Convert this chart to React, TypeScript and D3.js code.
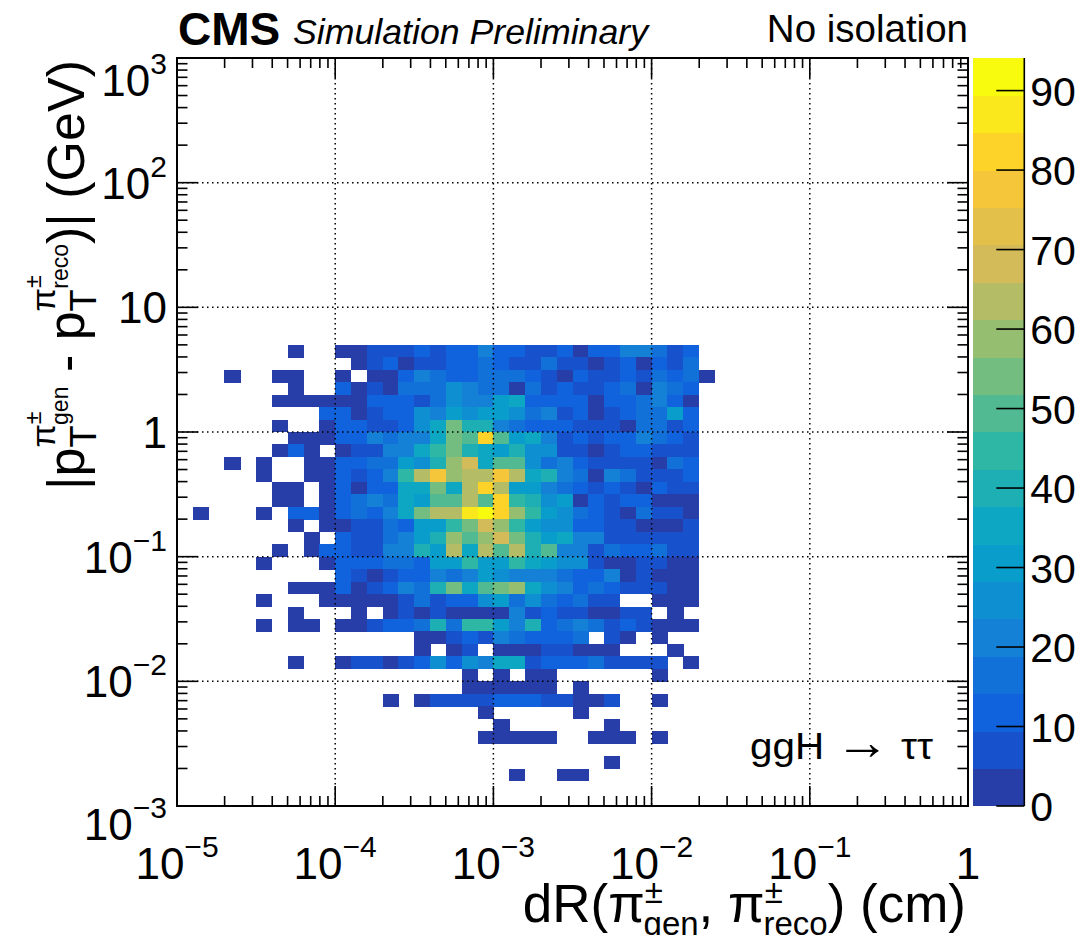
import React from "react";
import * as d3 from "d3";

// ---------- data ----------
// Histogram binning: 0.1 decade bins in log10 on both axes
const X_LOG_MIN = -5;
const X_LOG_MAX = 0;
const Y_LOG_MIN = -3;
const Y_LOG_MAX = 3;
const BIN_DECADES = 0.1;
const Z_MAX = 94.1;
const N_CONTOURS = 20;

// y-bin index (from 1e-3, 0.1 decade each) of every row below, top to bottom
const rowIndices = [36, 35, 34, 33, 32, 31, 30, 29, 28, 27, 26, 25, 24, 23, 22, 21, 20, 19, 18, 17, 16, 15, 14, 13, 12, 11, 10, 9, 8, 7, 6, 5, 4, 3, 2];

// counts per x-bin (x-bin c spans 10^(-5+0.1c) .. 10^(-5+0.1(c+1))), c = 0..33
const counts = [
  [0,0,0,0,0,0,0,2,0,0, 2,2,7,7,7,14,7,12,12,21, 12,12,7,7,12,2,12,12,21,21, 17,7,12,0],
  [0,0,0,0,0,0,0,0,0,0, 0,2,7,12,2,7,7,12,12,17, 12,7,7,17,7,7,2,7,12,2, 12,7,17,0],
  [0,0,0,2,0,0,2,2,0,0, 2,0,2,2,12,21,17,12,12,17, 17,17,12,7,2,12,7,7,12,7, 17,12,17,2],
  [0,0,0,0,0,0,0,2,0,0, 12,2,7,2,17,17,17,26,21,17, 17,2,17,7,12,7,7,12,17,2, 21,17,12,0],
  [0,0,0,0,0,0,2,2,2,2, 2,2,12,12,12,7,17,26,21,21, 31,35,12,12,12,12,2,12,12,17, 21,12,2,0],
  [0,0,0,0,0,0,0,0,0,12, 12,2,7,12,12,26,21,31,26,31, 31,26,17,21,7,12,2,7,12,17, 17,31,12,0],
  [0,0,0,0,0,0,2,0,0,2, 12,12,7,7,12,26,35,54,40,40, 21,17,14,12,12,7,7,7,2,17, 17,7,12,0],
  [0,0,0,0,0,0,0,2,2,2, 12,12,21,17,21,21,35,54,50,83, 50,31,35,21,7,12,7,12,12,21, 17,12,7,0],
  [0,0,0,0,0,0,2,12,2,0, 2,7,7,21,21,35,45,54,40,35, 31,40,24,26,7,7,2,7,12,12, 7,7,7,0],
  [0,0,0,2,0,2,0,0,2,2, 12,14,17,17,31,26,40,59,69,35, 50,50,28,17,21,12,7,7,7,7, 2,17,12,0],
  [0,0,0,0,0,2,0,0,2,2, 12,7,12,21,45,64,78,59,64,64, 78,64,35,40,21,17,2,21,17,7, 7,7,12,0],
  [0,0,0,0,0,0,2,2,0,2, 12,2,12,12,35,35,54,35,64,83, 64,31,31,21,17,12,7,12,7,2, 12,7,7,0],
  [0,0,0,0,0,0,2,2,0,2, 12,17,21,17,35,31,50,50,64,50, 83,45,40,26,31,2,12,7,12,12, 2,2,2,0],
  [0,2,0,0,0,2,0,12,12,2, 12,17,12,21,35,54,64,64,88,93, 83,59,45,31,26,17,12,7,2,17, 7,7,2,0],
  [0,0,0,0,0,0,0,2,0,2, 2,7,7,17,12,31,31,45,54,69, 59,45,31,26,26,12,12,7,7,2, 2,2,7,0],
  [0,0,0,0,0,0,0,0,2,0, 12,7,7,17,21,31,40,59,50,59, 69,54,40,31,35,21,21,7,7,7, 7,7,7,0],
  [0,0,0,0,0,0,2,0,2,12, 14,7,7,21,21,40,31,64,35,64, 50,64,40,50,21,21,7,17,12,12, 17,7,7,0],
  [0,0,0,0,0,2,0,0,0,2, 12,12,12,17,17,12,31,31,45,31, 31,45,33,31,26,26,7,2,2,7, 7,2,2,0],
  [0,0,0,0,0,0,0,0,0,0, 12,9,2,7,12,12,21,17,21,31, 26,21,21,21,17,12,12,21,2,7, 2,2,2,0],
  [0,0,0,0,0,0,0,2,2,2, 12,2,7,12,21,17,40,54,35,50, 54,59,33,26,21,12,17,12,7,7, 7,2,2,0],
  [0,0,0,0,0,2,0,0,0,2, 2,2,2,2,7,17,7,12,12,26, 31,17,28,17,12,17,7,7,0,0, 2,2,2,0],
  [0,0,0,0,0,0,0,2,0,0, 0,2,0,2,7,2,7,2,2,2, 2,21,7,12,7,7,2,2,7,7, 0,2,0,0],
  [0,0,0,0,0,2,0,2,2,0, 2,2,7,12,12,17,40,17,45,45, 31,21,40,12,17,21,17,7,12,7, 2,2,2,0],
  [0,0,0,0,0,0,0,0,0,0, 0,0,0,0,0,2,2,7,12,7, 21,17,12,12,12,17,0,7,2,0, 2,0,0,0],
  [0,0,0,0,0,0,0,0,0,0, 0,0,0,0,0,2,0,2,7,0, 2,2,2,7,7,2,2,2,0,0, 0,2,0,0],
  [0,0,0,0,0,0,0,2,0,0, 2,9,7,2,7,12,26,12,26,21, 35,35,7,12,12,12,17,7,7,7, 7,0,2,0],
  [0,0,0,0,0,0,0,0,0,0, 0,0,0,0,0,0,0,0,2,0, 2,0,2,2,0,0,0,0,0,0, 2,0,0,0],
  [0,0,0,0,0,0,0,0,0,0, 0,0,0,0,0,0,0,0,2,2, 2,2,2,2,0,2,0,0,0,0, 0,0,0,0],
  [0,0,0,0,0,0,0,0,0,0, 0,0,0,2,0,2,7,7,7,7, 12,12,12,7,7,2,2,7,0,0, 2,0,0,0],
  [0,0,0,0,0,0,0,0,0,0, 0,0,0,0,0,0,0,0,0,2, 0,0,0,0,0,2,0,0,0,0, 0,0,0,0],
  [0,0,0,0,0,0,0,0,0,0, 0,0,0,0,0,0,0,0,0,0, 2,0,0,0,0,0,0,2,0,0, 0,0,0,0],
  [0,0,0,0,0,0,0,0,0,0, 0,0,0,0,0,0,0,0,0,2, 2,2,2,2,0,0,2,2,2,0, 2,0,0,0],
  [0,0,0,0,0,0,0,0,0,0, 0,0,0,0,0,0,0,0,0,0, 0,0,0,0,0,0,0,0,0,0, 0,0,0,0],
  [0,0,0,0,0,0,0,0,0,0, 0,0,0,0,0,0,0,0,0,0, 0,0,0,0,0,0,0,2,0,0, 0,0,0,0],
  [0,0,0,0,0,0,0,0,0,0, 0,0,0,0,0,0,0,0,0,0, 0,2,0,0,2,2,0,0,0,0, 0,0,0,0],
];

const xMajorTicks = [1e-5, 1e-4, 1e-3, 1e-2, 1e-1, 1];
const xTickLabels = [["10", "−5"], ["10", "−4"], ["10", "−3"], ["10", "−2"], ["10", "−1"], ["1", ""]];
const yMajorTicks = [1e-3, 1e-2, 1e-1, 1, 10, 100, 1000];
const yTickLabels = [["10", "−3"], ["10", "−2"], ["10", "−1"], ["1", ""], ["10", ""], ["10", "2"], ["10", "3"]];
const zTicks = [0, 10, 20, 30, 40, 50, 60, 70, 80, 90];

// ROOT kBird palette
const birdStops = [0.0, 0.125, 0.25, 0.375, 0.5, 0.625, 0.75, 0.875, 1.0];
const birdR = [0.2082, 0.0592, 0.078, 0.0232, 0.1802, 0.5301, 0.8186, 0.9956, 0.9764];
const birdG = [0.1664, 0.3599, 0.5041, 0.6419, 0.7178, 0.7492, 0.7328, 0.7862, 0.9832];
const birdB = [0.5293, 0.8684, 0.8385, 0.7914, 0.6425, 0.4662, 0.3499, 0.1968, 0.0539];

// ---------- layout ----------
const W = 1087, H = 935;
const FL = 177, FR = 968, FT = 58, FB = 806;
const CB_L = 972.5, CB_R = 1024.3;
const FONT = "'Liberation Sans', Arial, Helvetica, sans-serif";

const palette = d3
  .scaleLinear<string>()
  .domain(birdStops)
  .range(birdStops.map((_, i) => d3.rgb(birdR[i] * 255, birdG[i] * 255, birdB[i] * 255).toString()))
  .interpolate(d3.interpolateRgb);

function bandColor(k: number) {
  const idx = Math.min(254, Math.floor(((k + 0.99) * 255) / N_CONTOURS));
  return palette(idx / 254);
}
function valueBand(v: number) {
  return Math.max(0, Math.min(N_CONTOURS - 1, Math.floor((v / Z_MAX) * N_CONTOURS)));
}

export default function App() {
  const x = d3.scaleLog().domain([Math.pow(10, X_LOG_MIN), Math.pow(10, X_LOG_MAX)]).range([FL, FR]);
  const y = d3.scaleLog().domain([Math.pow(10, Y_LOG_MIN), Math.pow(10, Y_LOG_MAX)]).range([FB, FT]);
  const z = d3.scaleLinear().domain([0, Z_MAX]).range([FB, FT]);

  const cells: any[] = [];
  counts.forEach((row, i) => {
    const r = rowIndices[i];
    row.forEach((v, c) => {
      if (v <= 0) return;
      const x0 = x(Math.pow(10, X_LOG_MIN + c * BIN_DECADES));
      const x1 = x(Math.pow(10, X_LOG_MIN + (c + 1) * BIN_DECADES));
      const y1 = y(Math.pow(10, Y_LOG_MIN + r * BIN_DECADES));
      const y0 = y(Math.pow(10, Y_LOG_MIN + (r + 1) * BIN_DECADES));
      cells.push(
        <rect key={`c${r}_${c}`} x={x0} y={y0} width={x1 - x0 + 0.4} height={y1 - y0 + 0.4} fill={bandColor(valueBand(v))} />
      );
    });
  });

  // minor ticks
  const xMinor: number[] = [];
  for (let e = X_LOG_MIN; e < X_LOG_MAX; e++) for (let m = 2; m <= 9; m++) xMinor.push(m * Math.pow(10, e));
  const yMinor: number[] = [];
  for (let e = Y_LOG_MIN; e < Y_LOG_MAX; e++) for (let m = 2; m <= 9; m++) yMinor.push(m * Math.pow(10, e));

  const XMAJ = 20, XMIN = 10, YMAJ = 21, YMIN = 10.5;
  const ticks: any[] = [];
  xMajorTicks.forEach((t, i) => {
    const px = x(t);
    ticks.push(<line key={`xb${i}`} x1={px} x2={px} y1={FB} y2={FB - XMAJ} />);
    ticks.push(<line key={`xt${i}`} x1={px} x2={px} y1={FT} y2={FT + XMAJ} />);
  });
  xMinor.forEach((t, i) => {
    const px = x(t);
    ticks.push(<line key={`xbm${i}`} x1={px} x2={px} y1={FB} y2={FB - XMIN} />);
    ticks.push(<line key={`xtm${i}`} x1={px} x2={px} y1={FT} y2={FT + XMIN} />);
  });
  yMajorTicks.forEach((t, i) => {
    const py = y(t);
    ticks.push(<line key={`yl${i}`} x1={FL} x2={FL + YMAJ} y1={py} y2={py} />);
    ticks.push(<line key={`yr${i}`} x1={FR} x2={FR - YMAJ} y1={py} y2={py} />);
  });
  yMinor.forEach((t, i) => {
    const py = y(t);
    ticks.push(<line key={`ylm${i}`} x1={FL} x2={FL + YMIN} y1={py} y2={py} />);
    ticks.push(<line key={`yrm${i}`} x1={FR} x2={FR - YMIN} y1={py} y2={py} />);
  });

  const grid: any[] = [];
  xMajorTicks.slice(1, -1).forEach((t, i) => {
    const px = x(t);
    grid.push(<line key={`gx${i}`} x1={px} x2={px} y1={FT} y2={FB} />);
  });
  yMajorTicks.slice(1, -1).forEach((t, i) => {
    const py = y(t);
    grid.push(<line key={`gy${i}`} x1={FL} x2={FR} y1={py} y2={py} />);
  });

  const bands: any[] = [];
  for (let k = 0; k < N_CONTOURS; k++) {
    const yTop = z(((k + 1) * Z_MAX) / N_CONTOURS);
    const yBot = z((k * Z_MAX) / N_CONTOURS);
    bands.push(<rect key={`b${k}`} x={CB_L} y={yTop} width={CB_R - CB_L} height={yBot - yTop + 0.4} fill={bandColor(k)} />);
  }

  const LBL = 44;
  const SUP = 30;
  const n = yMajorTicks.length;
  // ROOT pushes the outermost log labels of the y axis down a little
  const yLabelBase = (i: number) => {
    const py = y(yMajorTicks[i]);
    if (i === n - 1) return py + 38;
    if (i === 0) return py + 34;
    return py + 16;
  };

  return (
    <svg
      width={W}
      height={H}
      viewBox={`0 0 ${W} ${H}`}
      style={{ position: "absolute", left: 0, top: 0, background: "#fff" }}
      fontFamily={FONT}
    >
      <rect x={0} y={0} width={W} height={H} fill="#fff" />
      <g shapeRendering="crispEdges">{cells}</g>
      <g stroke="#000" strokeWidth={1.5} strokeDasharray="1.5,3.5">{grid}</g>
      <g stroke="#000" strokeWidth={1.6}>{ticks}</g>
      <rect x={FL} y={FT} width={FR - FL} height={FB - FT} fill="none" stroke="#000" strokeWidth={2} />

      {/* palette */}
      <g shapeRendering="crispEdges">{bands}</g>
      <line x1={CB_R} x2={CB_R} y1={FT} y2={FB} stroke="#000" strokeWidth={1.6} />
      {zTicks.map((t) => (
        <g key={`z${t}`}>
          <line x1={CB_R} x2={CB_R - 28} y1={z(t)} y2={z(t)} stroke="#000" strokeWidth={1.6} />
          <text x={CB_R + 6} y={z(t) + 15} fontSize={41} fill="#000">
            {t}
          </text>
        </g>
      ))}

      {/* x tick labels */}
      {xMajorTicks.map((t, i) => (
        <text key={`xl${i}`} x={x(t)} y={879} fontSize={LBL} textAnchor="middle" fill="#000">
          {xTickLabels[i][0]}
          {xTickLabels[i][1] && (
            <tspan dy={-22} fontSize={SUP}>
              {xTickLabels[i][1]}
            </tspan>
          )}
        </text>
      ))}

      {/* y tick labels */}
      {yMajorTicks.map((t, i) => (
        <text key={`yl${i}`} x={167} y={yLabelBase(i)} fontSize={LBL} textAnchor="end" fill="#000">
          {yTickLabels[i][0]}
          {yTickLabels[i][1] && (
            <tspan dy={-22} fontSize={SUP}>
              {yTickLabels[i][1]}
            </tspan>
          )}
        </text>
      ))}

      {/* x title */}
      <text x={966} y={922} fontSize={53} textAnchor="end" fill="#000">
        dR(π
        <tspan fontSize={33} dy={-19}>±</tspan>
        <tspan fontSize={33} dx={-19.3} dy={32}>gen</tspan>
        <tspan fontSize={53} dy={-13}>, π</tspan>
        <tspan fontSize={33} dy={-19}>±</tspan>
        <tspan fontSize={33} dx={-19.3} dy={32}>reco</tspan>
        <tspan fontSize={53} dy={-13}>) (cm)</tspan>
      </text>

      {/* y title */}
      <g transform="translate(84,60) rotate(-90)">
        <text x={0} y={0} fontSize={52} textAnchor="end" fill="#000">
          |p
          <tspan fontSize={36} dy={12}>T</tspan>
          <tspan fontSize={34} dx={-22} dy={-41}>π</tspan>
          <tspan fontSize={23} dy={-14}>±</tspan>
          <tspan fontSize={23} dx={-13.4} dy={27}>gen</tspan>
          <tspan fontSize={52} dy={16}> - p</tspan>
          <tspan fontSize={36} dy={12}>T</tspan>
          <tspan fontSize={34} dx={-22} dy={-41}>π</tspan>
          <tspan fontSize={23} dy={-14}>±</tspan>
          <tspan fontSize={23} dx={-13.4} dy={27}>reco</tspan>
          <tspan fontSize={52} dy={16}>)| (GeV)</tspan>
        </text>
      </g>

      {/* header */}
      <text x={178} y={45} fontSize={46} fontWeight="bold" fill="#000">CMS</text>
      <text x={293} y={44} fontSize={35} fontStyle="italic" fill="#000" textLength={355} lengthAdjust="spacingAndGlyphs">
        Simulation Preliminary
      </text>
      <text x={968} y={42} fontSize={38.5} textAnchor="end" fill="#000">No isolation</text>

      <text x={750} y={759} fontSize={37} fill="#000" textLength={183} lengthAdjust="spacingAndGlyphs">
        ggH <tspan fontSize={50}>→</tspan> ττ
      </text>
    </svg>
  );
}
